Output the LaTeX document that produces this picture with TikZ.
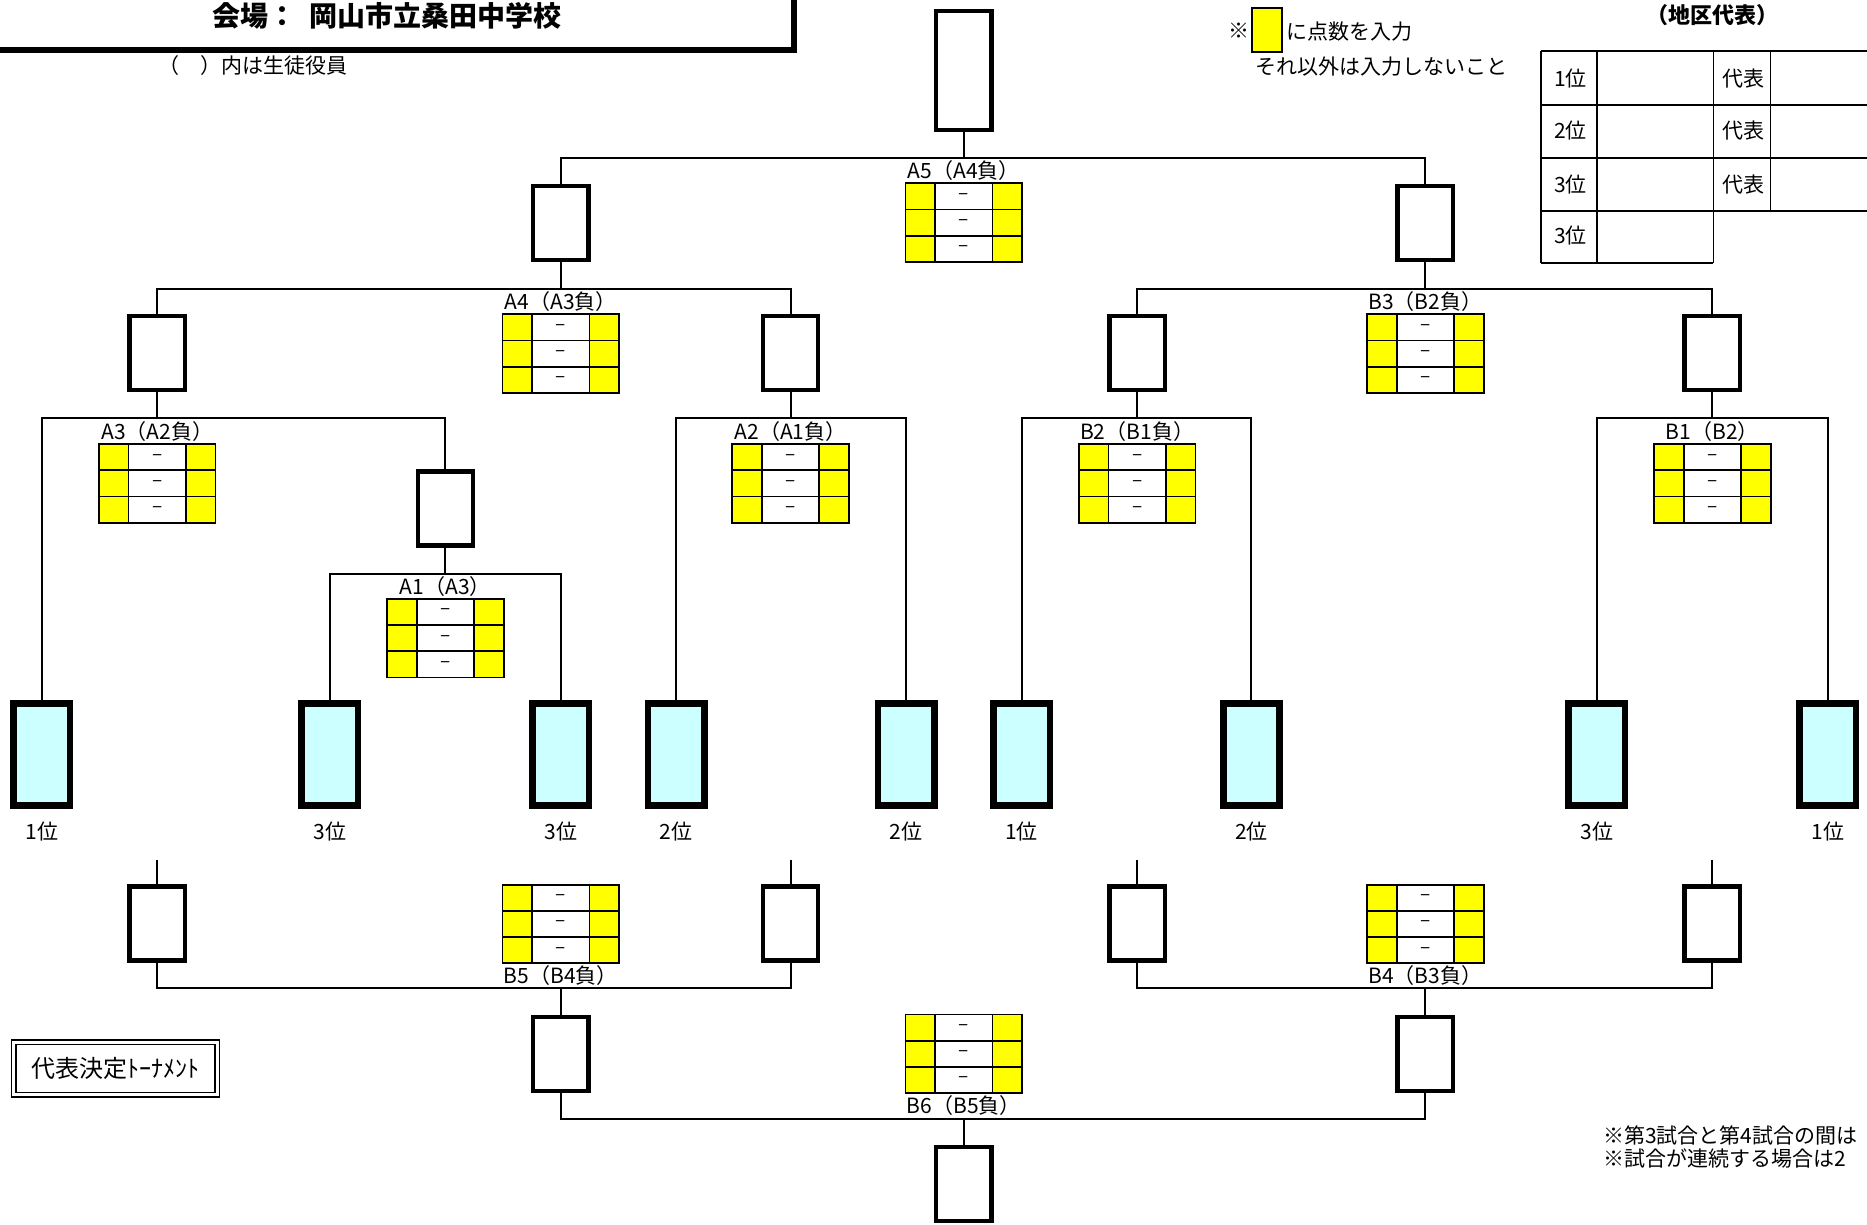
\documentclass[tikz,border=0pt]{standalone}
\usepackage{fontspec}
\setmainfont{Noto Sans CJK JP}
\usepackage{tikz}
\usetikzlibrary{positioning,calc}
\definecolor{cellyellow}{HTML}{FFFF00}
\definecolor{seedcyan}{HTML}{CCFFFF}
\tikzset{
  slot/.style={draw, line width=2.2pt, fill=white, minimum width=27.6pt, minimum height=37pt, inner sep=0pt},
  topslot/.style={slot, minimum height=59.5pt},
  seed/.style={draw, line width=3.3pt, fill=seedcyan, minimum width=28.2pt, minimum height=50.9pt, inner sep=0pt},
  ycell/.style={draw, line width=0.9pt, fill=cellyellow, minimum width=14.9pt, minimum height=13.1pt, inner sep=0pt, outer sep=0pt},
  wcell/.style={ycell, fill=white, minimum width=28.6pt, font=\fontsize{9.5}{10}\selectfont},
  gamelabel/.style={inner sep=1pt, font=\fontsize{10.5}{12}\selectfont},
  rank/.style={inner sep=1pt, font=\fontsize{10.5}{12}\selectfont},
  note/.style={inner sep=0pt, anchor=west, font=\fontsize{10.5}{12}\selectfont},
  bracket/.style={line width=0.95pt},
  gridline/.style={line width=0.9pt},
}
% score table: name, x, top
\newcommand{\scoretable}[3]{%
  \foreach \r in {1,2,3} {
    \node[wcell] (#1-w\r) at ({#2},{#3+11+22*(\r-1)}) {–};
    \node[ycell, left=0pt of #1-w\r] (#1-l\r) {};
    \node[ycell, right=0pt of #1-w\r] (#1-r\r) {};
  }
}
% parent above, two entrants below
\newcommand{\bracketdown}[3]{%
  \coordinate (#1-j) at ($(#1.south)+(0,22)$);
  \draw[bracket] (#1.south) -- (#1-j);
  \draw[bracket] (#2.north) |- (#1-j) -| (#3.north);
}
% parent below, two entrants above
\newcommand{\bracketup}[3]{%
  \coordinate (#1-j) at ($(#1.north)+(0,-22)$);
  \draw[bracket] (#1.north) -- (#1-j);
  \draw[bracket] (#2.south) |- (#1-j) -| (#3.south);
}

\begin{document}
\begin{tikzpicture}[x=0.5953pt, y=-0.5953pt]
\useasboundingbox (0,0) rectangle (1568,1028.8);
\clip (0,0) rectangle (1568,1028.8);

% header
\draw[line width=3.2pt] (-20,42) -| (667,-20);
\node[font=\bfseries\fontsize{14}{16}\selectfont] (venue) at (325,13) {会場：\hspace{0.45em}岡山市立桑田中学校};
\node[note] (officers) at (133,55) {（　）内は生徒役員};

% legend
\node[note] (mark) at (1031,26) {※};
\node[draw, line width=1pt, fill=cellyellow, minimum width=14.9pt, minimum height=22pt, inner sep=0pt] (key) at (1064,25.5) {};
\node[note] (keytext) at (1080,26.5) {に点数を入力};
\node[note] (keynote) at (1054,56) {それ以外は入力しないこと};

% district representatives
\node[font=\bfseries\fontsize{11}{13}\selectfont] (reps) at (1438,13) {（地区代表）};
\foreach \y in {43,88,133,177}
  \draw[gridline] (1294,\y) -- (1580,\y);
\draw[gridline] (1294,221) -- (1439,221);
\foreach \x in {1294,1341,1439}
  \draw[gridline] (\x,43) -- (\x,221);
\draw[gridline] (1487,43) -- (1487,177);
\foreach \n/\y/\t in {1/66/1位, 2/110/2位, 3/155/3位, 4/198/3位}
  \node[rank] (place\n) at (1319,\y) {\t};
\foreach \n/\y in {1/66, 2/110, 3/155}
  \node[rank] (rep\n) at (1464,\y) {代表};

% upper bracket
\node[topslot] (a5win) at (809.5,59) {};
\node[slot] (a4win) at (471,187.5) {};
\node[slot] (b3win) at (1197,187.5) {};
\node[slot] (a3win) at (132,296.5) {};
\node[slot] (a2win) at (664,296.5) {};
\node[slot] (b2win) at (955,296.5) {};
\node[slot] (b1win) at (1438,296.5) {};
\node[slot] (a1win) at (374,427) {};

\foreach \n/\x/\r in {s1/35/1位, s2/277/3位, s3/471/3位, s4/568/2位, s5/761/2位,
                      s6/858/1位, s7/1051/2位, s8/1341/3位, s9/1535/1位} {
  \node[seed] (\n) at (\x,633.5) {};
  \node[rank] (\n-rank) at (\x,698) {\r};
}

\bracketdown{a5win}{a4win}{b3win}
\bracketdown{a4win}{a3win}{a2win}
\bracketdown{b3win}{b2win}{b1win}
\bracketdown{a3win}{s1}{a1win}
\bracketdown{a1win}{s2}{s3}
\bracketdown{a2win}{s4}{s5}
\bracketdown{b2win}{s6}{s7}
\bracketdown{b1win}{s8}{s9}

\scoretable{a5}{809.5}{154}
\node[gamelabel, above=0pt of a5-w1] (a5-lab) {A5（A4負）};
\scoretable{a4}{471}{264}
\node[gamelabel, above=0pt of a4-w1] (a4-lab) {A4（A3負）};
\scoretable{b3}{1197}{264}
\node[gamelabel, above=0pt of b3-w1] (b3-lab) {B3（B2負）};
\scoretable{a3}{132}{373}
\node[gamelabel, above=0pt of a3-w1] (a3-lab) {A3（A2負）};
\scoretable{a2}{664}{373}
\node[gamelabel, above=0pt of a2-w1] (a2-lab) {A2（A1負）};
\scoretable{b2}{955}{373}
\node[gamelabel, above=0pt of b2-w1] (b2-lab) {B2（B1負）};
\scoretable{b1}{1438}{373}
\node[gamelabel, above=0pt of b1-w1] (b1-lab) {B1（B2）};
\scoretable{a1}{374}{503}
\node[gamelabel, above=0pt of a1-w1] (a1-lab) {A1（A3）};

% lower bracket
\foreach \n/\x in {l1/132, l2/664, l3/955, l4/1438} {
  \node[slot] (\n) at (\x,775.5) {};
  \coordinate (\n-top) at (\x,722);
  \draw[bracket] (\n-top) -- (\n.north);
}
\node[slot] (b5win) at (471,885) {};
\node[slot] (b4win) at (1197,885) {};
\node[slot] (b6win) at (809.5,994.5) {};

\bracketup{b5win}{l1}{l2}
\bracketup{b4win}{l3}{l4}
\bracketup{b6win}{b5win}{b4win}

\scoretable{b5}{471}{743}
\node[gamelabel, below=0pt of b5-w3] (b5-lab) {B5（B4負）};
\scoretable{b4}{1197}{743}
\node[gamelabel, below=0pt of b4-w3] (b4-lab) {B4（B3負）};
\scoretable{b6}{809.5}{852}
\node[gamelabel, below=0pt of b6-w3] (b6-lab) {B6（B5負）};

% footer
\node[draw, double, line width=0.8pt, double distance=1.4pt, minimum width=101.8pt, minimum height=26.2pt,
      font=\fontsize{12}{14}\selectfont] (decider) at (97,897.5) {代表決定ﾄｰﾅﾒﾝﾄ};
\node[note] (gap1) at (1346,954) {※第3試合と第4試合の間は};
\node[note] (gap2) at (1346,973) {※試合が連続する場合は2};
\end{tikzpicture}
\end{document}
